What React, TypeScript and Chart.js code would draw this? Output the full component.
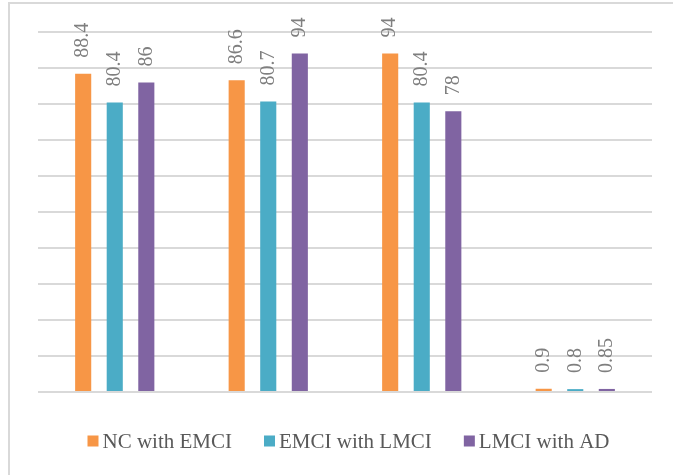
import React, { useEffect, useRef } from "react";
import { Chart, registerables } from "chart.js";

Chart.register(...registerables);

// Category labels are not shown in the picture (x-axis labels hidden)
const categories = ["Group 1", "Group 2", "Group 3", "Group 4"];
const seriesNames = ["NC with EMCI", "EMCI with LMCI", "LMCI with AD"];
const ncWithEmci = [88.4, 86.6, 94, 0.9];
const emciWithLmci = [80.4, 80.7, 80.4, 0.8];
const lmciWithAd = [86, 94, 78, 0.85];
const seriesColors = ["#F79646", "#4BACC6", "#8064A2"];
const yMin = 0;
const yMax = 100;
const yStep = 10;

const SERIF = "'Liberation Serif', 'Times New Roman', serif";

const valueLabels = {
  id: "valueLabels",
  afterDatasetsDraw(chart: any) {
    const ctx = chart.ctx;
    ctx.save();
    ctx.font = `20px ${SERIF}`;
    ctx.fillStyle = "#7f7f7f";
    ctx.textAlign = "left";
    ctx.textBaseline = "middle";
    chart.data.datasets.forEach((ds: any, i: number) => {
      const meta = chart.getDatasetMeta(i);
      meta.data.forEach((el: any, j: number) => {
        const v = ds.data[j];
        ctx.save();
        ctx.translate(el.x, el.y - 16);
        ctx.rotate(-Math.PI / 2);
        ctx.fillText(String(v), 0, 0);
        ctx.restore();
      });
    });
    ctx.restore();
  },
};

const customLegend = {
  id: "customLegend",
  afterDraw(chart: any) {
    const ctx = chart.ctx;
    ctx.save();
    ctx.font = `21px ${SERIF}`;
    ctx.textBaseline = "middle";
    ctx.textAlign = "left";
    const box = 11;
    const gap = 4;
    const spacing = 32;
    const items = chart.data.datasets.map((ds: any) => ({
      label: ds.label,
      color: ds.backgroundColor,
      w: box + gap + ctx.measureText(ds.label).width,
    }));
    const total =
      items.reduce((a: number, b: any) => a + b.w, 0) + spacing * (items.length - 1);
    let x = chart.width / 2 - total / 2;
    const y = chart.chartArea.bottom + 49;
    items.forEach((it: any) => {
      ctx.fillStyle = it.color;
      ctx.fillRect(x, y - box / 2, box, box);
      ctx.fillStyle = "#595959";
      ctx.fillText(it.label, x + box + gap, y + 1);
      x += it.w + spacing;
    });
    ctx.restore();
  },
};

export default function App() {
  const canvasRef = useRef<HTMLCanvasElement | null>(null);

  useEffect(() => {
    if (!canvasRef.current) return;
    const data = [ncWithEmci, emciWithLmci, lmciWithAd];
    const chart = new Chart(canvasRef.current, {
      type: "bar",
      data: {
        labels: categories,
        datasets: seriesNames.map((name, i) => ({
          label: name,
          data: data[i],
          backgroundColor: seriesColors[i],
          borderWidth: 0,
          categoryPercentage: 0.617,
          barPercentage: 0.51,
        })),
      },
      options: {
        responsive: false,
        animation: false,
        devicePixelRatio: 1,
        layout: { padding: { left: 38, top: 32, right: 45, bottom: 83 } },
        plugins: {
          legend: { display: false },
          tooltip: { enabled: false },
        },
        scales: {
          x: {
            ticks: { display: false },
            grid: { display: false, drawTicks: false },
            border: { display: false },
          },
          y: {
            min: yMin,
            max: yMax,
            ticks: { display: false, stepSize: yStep },
            grid: { color: "#d9d9d9", lineWidth: 2, drawTicks: false },
            border: { display: false },
          },
        },
      },
      plugins: [valueLabels, customLegend],
    });
    return () => chart.destroy();
  }, []);

  return (
    <div
      style={{
        position: "fixed",
        left: 0,
        top: 0,
        width: 673,
        height: 475,
        overflow: "hidden",
        background: "#ffffff",
      }}
    >
      <div
        style={{
          position: "absolute",
          left: 8,
          top: 2,
          width: 720,
          height: 520,
          borderTop: "2px solid #d9d9d9",
          borderLeft: "2px solid #d9d9d9",
        }}
      />
      <canvas
        ref={canvasRef}
        width={697}
        height={475}
        style={{ position: "absolute", left: 0, top: 0, width: 697, height: 475 }}
      />
    </div>
  );
}
